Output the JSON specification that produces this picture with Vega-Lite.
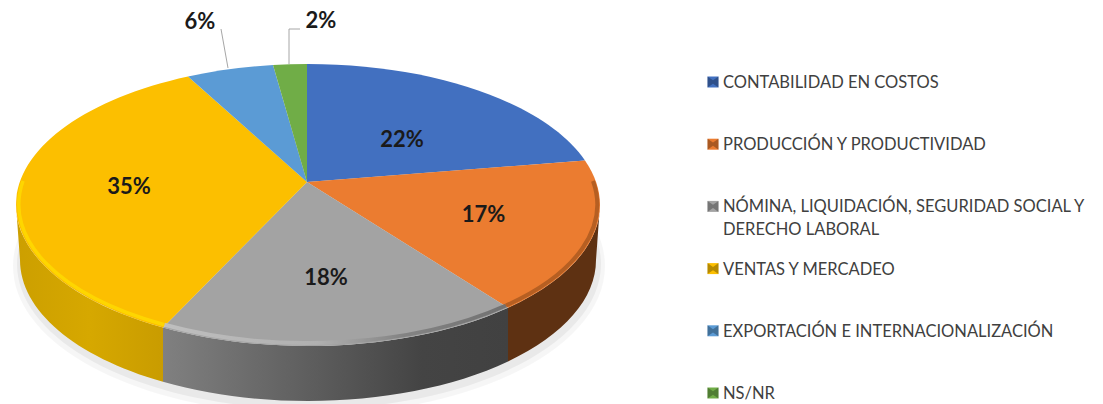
{"$schema":"https://vega.github.io/schema/vega-lite/v6.json","width":1103,"height":404,"padding":0,"background":"#ffffff","config":{"view":{"stroke":null}},
"data":{"values":[
{"categoria":"CONTABILIDAD EN COSTOS","leyenda":"CONTABILIDAD EN COSTOS","porcentaje":0.22},
{"categoria":"PRODUCCIÓN Y PRODUCTIVIDAD","leyenda":"PRODUCCIÓN Y PRODUCTIVIDAD","porcentaje":0.17},
{"categoria":"NÓMINA","leyenda":"NÓMINA, LIQUIDACIÓN, SEGURIDAD SOCIAL Y\nDERECHO LABORAL","porcentaje":0.18},
{"categoria":"VENTAS Y MERCADEO","leyenda":"VENTAS Y MERCADEO","porcentaje":0.35},
{"categoria":"EXPORTACIÓN E INTERNACIONALIZACIÓN","leyenda":"EXPORTACIÓN E INTERNACIONALIZACIÓN","porcentaje":0.06},
{"categoria":"NS/NR","leyenda":"NS/NR","porcentaje":0.02}]},
"layer":[
{"encoding":{"x":{"datum":0,"type":"quantitative","scale":{"domain":[-308,795],"range":[0,1103]},"axis":null},"y":{"datum":0,"type":"quantitative","scale":{"domain":[-205,199],"range":[0,404]},"axis":null}},
"layer":[
{"transform":[{"filter":"datum.categoria==='NS/NR'"}],"mark":{"type":"point","filled":true,"size":4,"opacity":0.035,"fill":"#000000","strokeWidth":0,"shape":"M-295,61 A295 148 0 1 0 297,61 A295 148 0 1 0 -295,61 Z"}},
{"transform":[{"filter":"datum.categoria==='NS/NR'"}],"mark":{"type":"point","filled":true,"size":4,"opacity":0.05,"fill":"#000000","strokeWidth":0,"shape":"M-291,59 A292 145 0 1 0 293,59 A292 145 0 1 0 -291,59 Z"}},
{"transform":[{"filter":"datum.categoria==='NS/NR'"}],"mark":{"type":"point","filled":true,"size":4,"opacity":1,"strokeWidth":0,"fill":"#5e3112","shape":"M292,0 A292 141 0 0 1 200,102.7 L200,156.5 A288 141 0 0 0 288,55 Z"}},
{"transform":[{"filter":"datum.categoria==='NS/NR'"}],"mark":{"type":"point","filled":true,"size":4,"opacity":1,"strokeWidth":0,"fill":{"gradient":"linear","x1":0,"y1":0,"x2":1,"y2":0,"stops":[{"offset":0,"color":"#808080"},{"offset":0.4,"color":"#606060"},{"offset":0.75,"color":"#444444"},{"offset":1,"color":"#414141"}]},"shape":"M200,102.7 A292 141 0 0 1 -145,122.4 L-145,176.8 A288 141 0 0 0 200,156.5 Z"}},
{"transform":[{"filter":"datum.categoria==='NS/NR'"}],"mark":{"type":"point","filled":true,"size":4,"opacity":1,"strokeWidth":0,"fill":{"gradient":"linear","x1":0,"y1":0,"x2":1,"y2":0,"stops":[{"offset":0,"color":"#cc9f00"},{"offset":0.5,"color":"#d6a800"},{"offset":1,"color":"#c99c00"}]},"shape":"M-145,122.4 A292 141 0 0 1 -292,0 L-288,55 A288 141 0 0 0 -145,176.8 Z"}},
{"mark":{"type":"point","filled":true,"size":4,"opacity":1,"strokeWidth":0},"encoding":{"shape":{"field":"categoria","type":"nominal","legend":null,"scale":{"domain":["CONTABILIDAD EN COSTOS","PRODUCCIÓN Y PRODUCTIVIDAD","NÓMINA","VENTAS Y MERCADEO","EXPORTACIÓN E INTERNACIONALIZACIÓN","NS/NR"],"range":["M-1,-23 L-1,-141 A292 141 0 0 1 277,-44.6 Z","M-1,-23 L277,-44.6 A292 141 0 0 1 292,0 A292 141 0 0 1 200,102.7 Z","M-1,-23 L200,102.7 A292 141 0 0 1 -145,122.4 Z","M-1,-23 L-145,122.4 A292 141 0 0 1 -120,-128.5 Z","M-1,-23 L-120,-128.5 A292 141 0 0 1 -35,-140 Z","M-1,-23 L-35,-140 A292 141 0 0 1 -1,-141 Z"]}},"color":{"field":"categoria","type":"nominal","legend":null,"scale":{"domain":["CONTABILIDAD EN COSTOS","PRODUCCIÓN Y PRODUCTIVIDAD","NÓMINA","VENTAS Y MERCADEO","EXPORTACIÓN E INTERNACIONALIZACIÓN","NS/NR"],"range":["#4270c0","#eb7c30","#a3a3a3","#fcbf00","#5b9bd5","#70ad47"]}}}},
{"transform":[{"filter":"datum.categoria==='NS/NR'"}],"mark":{"type":"point","filled":false,"size":4,"opacity":0.8,"strokeWidth":3.5,"stroke":"#ffdc00","shape":"M-143.6,119.8 A289.5 138.5 0 0 1 -285,-24"}},
{"transform":[{"filter":"datum.categoria==='NS/NR'"}],"mark":{"type":"point","filled":false,"size":4,"opacity":0.8,"strokeWidth":4,"stroke":{"gradient":"linear","x1":0,"y1":0,"x2":1,"y2":0,"stops":[{"offset":0,"color":"#c6c6c6"},{"offset":0.45,"color":"#b4b4b4"},{"offset":0.7,"color":"#7c7c7c"},{"offset":1,"color":"#666666"}]},"shape":"M-143.6,119.8 A289.5 138.5 0 0 0 198,100.5"}},
{"transform":[{"filter":"datum.categoria==='NS/NR'"}],"mark":{"type":"point","filled":false,"size":4,"opacity":0.8,"strokeWidth":4,"stroke":"#a9581f","shape":"M198,100.5 A289.5 138.5 0 0 0 285,-24"}},
{"transform":[{"filter":"datum.categoria==='NS/NR'"}],"mark":{"type":"point","filled":false,"size":4,"opacity":1,"strokeWidth":1,"stroke":"#a6a6a6","shape":"M-87,-176 L-80,-137"}},
{"transform":[{"filter":"datum.categoria==='NS/NR'"}],"mark":{"type":"point","filled":false,"size":4,"opacity":1,"strokeWidth":1,"stroke":"#a6a6a6","shape":"M-8,-176 L-19,-176 L-19,-141"}},
{"transform":[{"filter":"datum.categoria==='CONTABILIDAD EN COSTOS'"}],"mark":{"type":"text","font":"Lato","fontWeight":"bold","fontSize":22,"fill":"#1a1a1a","baseline":"middle"},"encoding":{"text":{"field":"porcentaje","type":"quantitative","format":".0%"},"x":{"datum":94,"type":"quantitative","scale":{"domain":[-308,795],"range":[0,1103]},"axis":null},"y":{"datum":-65,"type":"quantitative","scale":{"domain":[-205,199],"range":[0,404]},"axis":null}}},
{"transform":[{"filter":"datum.categoria==='PRODUCCIÓN Y PRODUCTIVIDAD'"}],"mark":{"type":"text","font":"Lato","fontWeight":"bold","fontSize":22,"fill":"#1a1a1a","baseline":"middle"},"encoding":{"text":{"field":"porcentaje","type":"quantitative","format":".0%"},"x":{"datum":175.5,"type":"quantitative","scale":{"domain":[-308,795],"range":[0,1103]},"axis":null},"y":{"datum":10,"type":"quantitative","scale":{"domain":[-205,199],"range":[0,404]},"axis":null}}},
{"transform":[{"filter":"datum.categoria==='NÓMINA'"}],"mark":{"type":"text","font":"Lato","fontWeight":"bold","fontSize":22,"fill":"#1a1a1a","baseline":"middle"},"encoding":{"text":{"field":"porcentaje","type":"quantitative","format":".0%"},"x":{"datum":18,"type":"quantitative","scale":{"domain":[-308,795],"range":[0,1103]},"axis":null},"y":{"datum":73,"type":"quantitative","scale":{"domain":[-205,199],"range":[0,404]},"axis":null}}},
{"transform":[{"filter":"datum.categoria==='VENTAS Y MERCADEO'"}],"mark":{"type":"text","font":"Lato","fontWeight":"bold","fontSize":22,"fill":"#1a1a1a","baseline":"middle"},"encoding":{"text":{"field":"porcentaje","type":"quantitative","format":".0%"},"x":{"datum":-179,"type":"quantitative","scale":{"domain":[-308,795],"range":[0,1103]},"axis":null},"y":{"datum":-18,"type":"quantitative","scale":{"domain":[-205,199],"range":[0,404]},"axis":null}}},
{"transform":[{"filter":"datum.categoria==='EXPORTACIÓN E INTERNACIONALIZACIÓN'"}],"mark":{"type":"text","font":"Lato","fontWeight":"bold","fontSize":22,"fill":"#1a1a1a","baseline":"middle"},"encoding":{"text":{"field":"porcentaje","type":"quantitative","format":".0%"},"x":{"datum":-108,"type":"quantitative","scale":{"domain":[-308,795],"range":[0,1103]},"axis":null},"y":{"datum":-183,"type":"quantitative","scale":{"domain":[-205,199],"range":[0,404]},"axis":null}}},
{"transform":[{"filter":"datum.categoria==='NS/NR'"}],"mark":{"type":"text","font":"Lato","fontWeight":"bold","fontSize":22,"fill":"#1a1a1a","baseline":"middle"},"encoding":{"text":{"field":"porcentaje","type":"quantitative","format":".0%"},"x":{"datum":13,"type":"quantitative","scale":{"domain":[-308,795],"range":[0,1103]},"axis":null},"y":{"datum":-184,"type":"quantitative","scale":{"domain":[-205,199],"range":[0,404]},"axis":null}}}
]},
{"encoding":{"y":{"field":"categoria","type":"ordinal","sort":["CONTABILIDAD EN COSTOS","PRODUCCIÓN Y PRODUCTIVIDAD","NÓMINA","VENTAS Y MERCADEO","EXPORTACIÓN E INTERNACIONALIZACIÓN","NS/NR"],"axis":null,"scale":{"type":"point","padding":0,"range":[82,393]}}},
"layer":[
{"mark":{"type":"square","size":121,"opacity":1,"strokeWidth":0},"encoding":{"x":{"datum":405,"type":"quantitative","scale":{"domain":[-308,795],"range":[0,1103]},"axis":null},"color":{"field":"categoria","type":"nominal","legend":null,"scale":{"domain":["CONTABILIDAD EN COSTOS","PRODUCCIÓN Y PRODUCTIVIDAD","NÓMINA","VENTAS Y MERCADEO","EXPORTACIÓN E INTERNACIONALIZACIÓN","NS/NR"],"range":["#4270c0","#eb7c30","#a3a3a3","#fcbf00","#5b9bd5","#70ad47"]}}}},
{"mark":{"type":"point","filled":true,"size":121,"opacity":0.28,"fill":"#000000","strokeWidth":0,"shape":"M-1,-1 L0,-0.3 L1,-1 L1,1 L0,0.3 L-1,1 Z"},"encoding":{"x":{"datum":405,"type":"quantitative","scale":{"domain":[-308,795],"range":[0,1103]},"axis":null}}},
{"mark":{"type":"text","font":"Lato","fontSize":16.5,"fill":"#404040","align":"left","baseline":"alphabetic","dy":6,"lineBreak":"\n","lineHeight":23},"encoding":{"text":{"field":"leyenda"},"x":{"datum":415,"type":"quantitative","scale":{"domain":[-308,795],"range":[0,1103]},"axis":null}}}
]}
],
"resolve":{"scale":{"y":"independent"}}}
